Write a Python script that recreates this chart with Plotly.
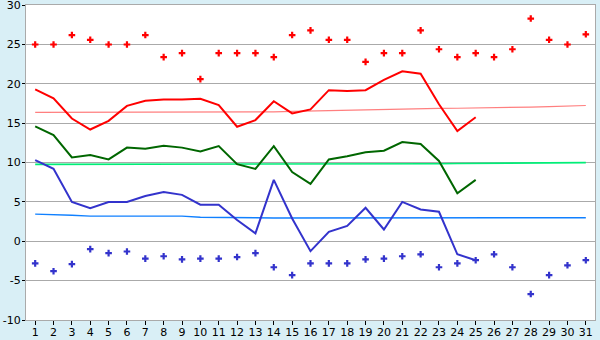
import plotly.graph_objects as go

days = list(range(1, 32))
days_obs = list(range(1, 26))

record_max = [25.0, 25.0, 26.2, 25.6, 25.0, 25.0, 26.2, 23.4, 23.9, 20.6,
              23.9, 23.9, 23.9, 23.4, 26.2, 26.8, 25.6, 25.6, 22.8, 23.9,
              23.9, 26.8, 24.4, 23.4, 23.9, 23.4, 24.4, 28.3, 25.6, 25.0, 26.3]

record_min = [-2.8, -3.8, -2.9, -1.0, -1.5, -1.3, -2.2, -1.9, -2.3, -2.2,
              -2.2, -2.0, -1.5, -3.3, -4.3, -2.8, -2.8, -2.8, -2.3, -2.2,
              -1.9, -1.65, -3.3, -2.8, -2.4, -1.65, -3.3, -6.7, -4.3, -3.05, -2.4]

mean_max = [19.3, 18.15, 15.6, 14.2, 15.3, 17.2, 17.85, 18.0, 18.0, 18.1,
            17.3, 14.55, 15.4, 17.8, 16.25, 16.75, 19.2, 19.1, 19.2, 20.5,
            21.6, 21.3, 17.4, 14.0, 15.75]

mean_temp = [14.6, 13.5, 10.65, 10.95, 10.4, 11.9, 11.75, 12.15, 11.9, 11.4,
             12.1, 9.8, 9.2, 12.1, 8.8, 7.3, 10.4, 10.8, 11.3, 11.5,
             12.6, 12.35, 10.2, 6.1, 7.8]

mean_min = [10.3, 9.2, 5.0, 4.2, 5.0, 5.0, 5.75, 6.25, 5.9, 4.65,
            4.65, 2.7, 1.0, 7.8, 2.9, -1.25, 1.2, 1.95, 4.25, 1.5,
            5.0, 4.05, 3.75, -1.65, -2.4]

normal_max = [16.37, 16.37, 16.37, 16.37, 16.37, 16.37, 16.37, 16.37, 16.37, 16.37,
              16.4, 16.4, 16.45, 16.45, 16.5, 16.55, 16.65, 16.65, 16.7, 16.75,
              16.8, 16.85, 16.88, 16.9, 16.92, 16.95, 17.0, 17.05, 17.1, 17.15, 17.25]

normal_mean = [9.77, 9.77, 9.77, 9.77, 9.77, 9.77, 9.77, 9.77, 9.77, 9.77,
               9.77, 9.77, 9.77, 9.77, 9.77, 9.77, 9.77, 9.77, 9.77, 9.8,
               9.82, 9.84, 9.86, 9.88, 9.9, 9.9, 9.92, 9.95, 10.0, 10.0, 10.0]

normal_min = [3.45, 3.33, 3.3, 3.2, 3.2, 3.2, 3.2, 3.2, 3.2, 3.05,
              3.05, 3.05, 3.0, 2.95, 2.95, 2.95, 2.95, 2.95, 2.95, 2.95,
              2.95, 2.95, 2.95, 2.95, 2.95, 2.95, 2.95, 2.95, 2.95, 2.95, 3.0]

y_ticks = [-10, -5, 0, 5, 10, 15, 20, 25, 30]

fig = go.Figure()

fig.add_trace(go.Scatter(x=days, y=normal_max, mode="lines",
                         line=dict(color="#ff7f7f", width=1.2), hoverinfo="skip"))
fig.add_trace(go.Scatter(x=days, y=normal_mean, mode="lines",
                         line=dict(color="#00ee77", width=1.6), hoverinfo="skip"))
fig.add_trace(go.Scatter(x=days, y=normal_min, mode="lines",
                         line=dict(color="#1080ff", width=1.4), hoverinfo="skip"))

fig.add_trace(go.Scatter(x=days_obs, y=mean_max, mode="lines",
                         line=dict(color="#ff0000", width=2)))
fig.add_trace(go.Scatter(x=days_obs, y=mean_temp, mode="lines",
                         line=dict(color="#006600", width=2)))
fig.add_trace(go.Scatter(x=days_obs, y=mean_min, mode="lines",
                         line=dict(color="#3333cc", width=2)))

fig.add_trace(go.Scatter(x=days, y=record_max, mode="markers",
                         marker=dict(symbol="cross", size=5.5, color="#ff0000",
                                     line=dict(width=0))))
fig.add_trace(go.Scatter(x=days, y=record_min, mode="markers",
                         marker=dict(symbol="cross", size=5.5, color="#3333cc",
                                     line=dict(width=0))))

fig.update_layout(
    width=600, height=340,
    margin=dict(l=26, r=5, t=5, b=20),
    paper_bgcolor="#d9eff6",
    plot_bgcolor="#ffffff",
    showlegend=False,
    font=dict(family="DejaVu Sans", size=11, color="#000000"),
)

fig.update_xaxes(
    range=[0.5, 31.5], tickmode="array", tickvals=days, ticktext=[str(d) for d in days],
    showgrid=False, zeroline=False, automargin=False,
    showline=True, linecolor="#aaaaaa", linewidth=1, mirror=True,
    ticks="outside", ticklen=4, tickcolor="#000000", tickwidth=1,
    ticklabelstandoff=-2, ticklabeloverflow="allow",
    tickfont=dict(size=11),
)
fig.update_yaxes(
    range=[-10, 30.02], tickmode="array", tickvals=y_ticks,
    ticktext=[str(v) for v in y_ticks],
    showgrid=True, gridcolor="#aaaaaa", gridwidth=1,
    zeroline=False, automargin=False,
    showline=True, linecolor="#aaaaaa", linewidth=1, mirror=True,
    ticks="outside", ticklen=3, tickcolor="#000000",
    ticklabelstandoff=-1, ticklabeloverflow="allow",
    tickfont=dict(size=11),
)

fig.write_html("out.html")
